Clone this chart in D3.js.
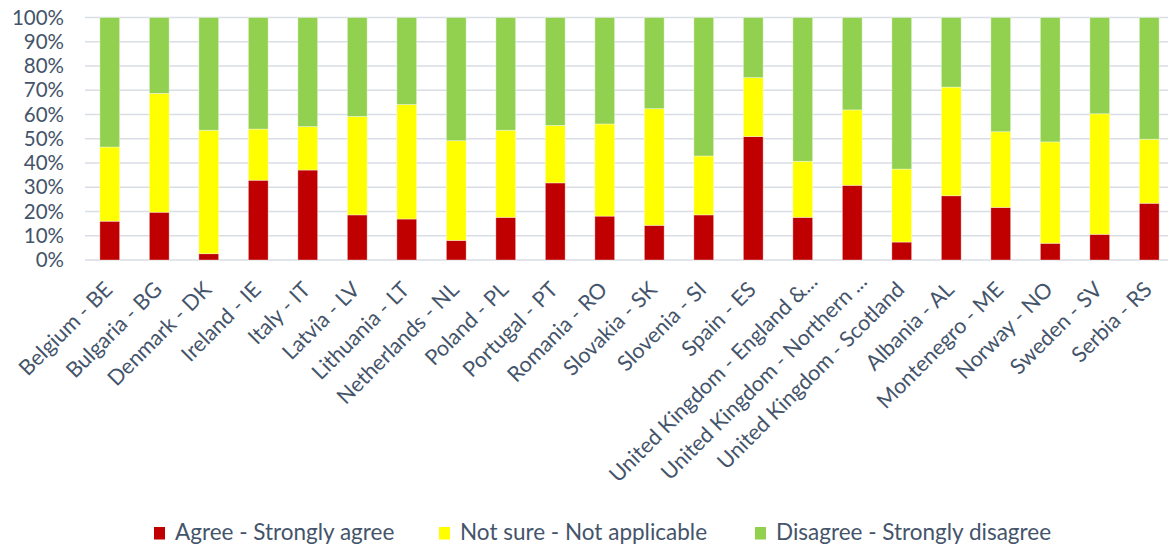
<!DOCTYPE html>
<html>
<head>
<meta charset="utf-8">
<script src="https://cdn.jsdelivr.net/npm/d3@7"></script>
<style>
html,body{margin:0;padding:0;background:#fff;}
svg{display:block;}
text{font-family:Lato, "Open Sans", sans-serif;}
</style>
</head>
<body>
<svg id="chart" width="1168" height="546"></svg>
<script>
const categories = ["Belgium - BE","Bulgaria - BG","Denmark - DK","Ireland - IE","Italy - IT","Latvia - LV","Lithuania - LT","Netherlands - NL","Poland - PL","Portugal - PT","Romania - RO","Slovakia - SK","Slovenia - SI","Spain - ES","United Kingdom - England &...","United Kingdom - Northern ...","United Kingdom - Scotland","Albania - AL","Montenegro - ME","Norway - NO","Sweden - SV","Serbia - RS"];
const agree   = [16.0,19.7,2.6,32.9,37.1,18.6,16.9,8.1,17.6,31.8,18.1,14.3,18.6,50.9,17.6,30.8,7.4,26.5,21.7,6.9,10.6,23.4];
const notSure = [30.6,49.0,50.9,21.1,17.9,40.6,47.2,41.1,35.9,23.7,38.0,48.1,24.3,24.3,23.1,31.1,30.1,44.8,31.2,41.8,49.7,26.4];
const disagree= [53.4,31.3,46.5,46.0,45.0,40.8,35.9,50.8,46.5,44.5,43.9,37.6,57.1,24.8,59.3,38.1,62.5,28.7,47.1,51.3,39.7,50.2];
const seriesNames = ["Agree - Strongly agree","Not sure - Not applicable","Disagree - Strongly disagree"];
const seriesColors = ["#C00000","#FFFF00","#92D050"];
const yTicks = [0,10,20,30,40,50,60,70,80,90,100];

const svg = d3.select("#chart");
const textColor = "#44546A";
const gridColor = "#D9DEE6";

const x = d3.scaleBand().domain(categories).range([85,1174]).paddingInner(0.6).paddingOuter(0.3);
const y = d3.scaleLinear().domain([0,100]).range([260,17.5]);

// gridlines
svg.append("g").selectAll("line").data(yTicks).join("line")
  .attr("x1",85).attr("x2",1168)
  .attr("y1",d=>y(d)).attr("y2",d=>y(d))
  .attr("stroke",gridColor).attr("stroke-width",1.3);

// y axis labels
const yAxis = d3.axisLeft(y).tickValues(yTicks).tickFormat(d=>d+"%").tickSize(0).tickPadding(0);
const yg = svg.append("g").attr("transform","translate(64,0)").call(yAxis);
yg.select(".domain").remove();
yg.selectAll("text").attr("fill",textColor).style("font-size","20.5px").style("font-family","Lato, sans-serif");

// stacked data
const rows = categories.map((c,i)=>({cat:c, s0:agree[i], s1:notSure[i], s2:disagree[i]}));
const stack = d3.stack().keys(["s0","s1","s2"]);
const stacked = stack(rows);

svg.append("g").selectAll("g").data(stacked).join("g")
  .attr("fill",(d,i)=>seriesColors[i])
  .selectAll("rect").data(d=>d).join("rect")
  .attr("x",d=>x(d.data.cat))
  .attr("width",x.bandwidth())
  .attr("y",d=>y(d[1]))
  .attr("height",d=>y(d[0])-y(d[1]))
  .attr("stroke","rgba(255,255,255,0.45)").attr("stroke-width",0.8);

// x labels
const xAxis = d3.axisBottom(x).tickSize(0).tickPadding(0);
const xg = svg.append("g").attr("transform","translate(0,260)").call(xAxis);
xg.select(".domain").remove();
xg.selectAll("text")
  .attr("fill",textColor)
  .style("font-size","21.5px").style("font-family","Lato, sans-serif")
  .attr("text-anchor","end")
  .attr("dy",null).attr("y",0)
  .attr("transform",d=> d.endsWith("...") ? "translate(16,23) rotate(-45)" : "translate(4,31) rotate(-45)");

// legend
const legendX = [154, 439, 755];
const lg = svg.append("g");
seriesNames.forEach((n,i)=>{
  lg.append("rect").attr("x",legendX[i]).attr("y",527).attr("width",11).attr("height",12.5).attr("fill",seriesColors[i]);
  lg.append("text").attr("x",legendX[i]+21).attr("y",540).attr("fill",textColor)
    .style("font-size","22.5px").text(n);
});
</script>
</body>
</html>
